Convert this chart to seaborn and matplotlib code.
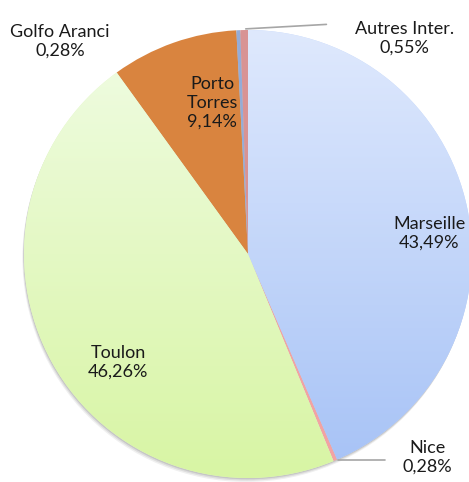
import numpy as np
import matplotlib.pyplot as plt
import seaborn as sns
from matplotlib.colors import LinearSegmentedColormap

# data (clockwise from 12 o'clock)
ports = ['Marseille', 'Nice', 'Toulon', 'Porto Torres', 'Golfo Aranci', 'Autres Inter.']
parts = [43.49, 0.28, 46.26, 9.14, 0.28, 0.55]
colors = ['#c2d6fb', '#f2a3a3', '#e4f9c8', '#d9843f', '#94acd8', '#d89394']
label_text = ['Marseille', 'Nice', 'Toulon', 'Porto\nTorres', 'Golfo Aranci', 'Autres Inter.']

# gradient fills for the two big wedges (top colour, bottom colour)
gradients = {
    'Marseille': ('#dfe9fd', '#a6c2f6'),
    'Toulon': ('#f0fce4', '#d8f5a4'),
}

# label positions (data coords, pie radius = 1)
label_pos = {
    'Marseille': (0.81, 0.094),
    'Nice': (0.80, -0.906),
    'Toulon': (-0.58, -0.482),
    'Porto Torres': (-0.16, 0.674),
    'Golfo Aranci': (-0.84, 0.951),
    'Autres Inter.': (0.70, 0.964),
}

sns.set_theme(style="white")
plt.rcParams['font.family'] = ['Lato', 'DejaVu Sans']

fig = plt.figure(figsize=(4.69, 4.82), dpi=100)
ax = fig.add_axes([0, 0, 1, 1])

# soft shadow under the pie
for off, a in [(0.018, 0.06), (0.012, 0.08), (0.006, 0.1)]:
    ax.add_patch(plt.Circle((-off * 0.4, -off), 1.0, color='#000000',
                            alpha=a, zorder=0, lw=0))

wedges, _ = ax.pie(parts, colors=colors, startangle=90, counterclock=False,
                   radius=1.0, wedgeprops=dict(linewidth=0))

for w, name in zip(wedges, ports):
    w.set_zorder(1)
    if name in gradients:
        top, bot = gradients[name]
        cmap = LinearSegmentedColormap.from_list(name, [bot, top])
        grad = np.linspace(0, 1, 256).reshape(-1, 1)
        im = ax.imshow(grad, cmap=cmap, extent=(-1, 1, -1, 1), origin='lower',
                       aspect='auto', zorder=2, interpolation='bilinear')
        im.set_clip_path(w)

for name, lab, val in zip(ports, label_text, parts):
    x, y = label_pos[name]
    txt = lab + "\n" + f"{val:.2f}%".replace('.', ',')
    ax.text(x, y, txt, ha='center', va='center', fontsize=13,
            color='#1a1a1a', linespacing=1.2, zorder=5)

# leader lines for the tiny slices
ax.plot([-0.01, 0.35], [1.005, 1.025], color='#a6a6a6', lw=1.2, zorder=4)
ax.plot([0.40, 0.61], [-0.92, -0.92], color='#a6a6a6', lw=1.2, zorder=4)

ax.set_xlim(-248 / 224, (469 - 248) / 224)
ax.set_ylim(-(482 - 254) / 224, 254 / 224)
ax.set_aspect('equal')
ax.axis('off')

fig.savefig('out.png', dpi=100)
